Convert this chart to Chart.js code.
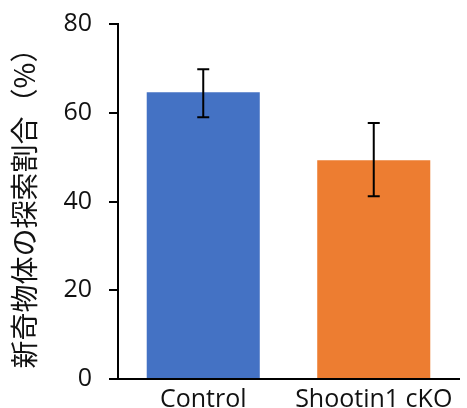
<!DOCTYPE html>
<html>
<head>
<meta charset="utf-8">
<script src="https://cdn.jsdelivr.net/npm/chart.js@4.4.0/dist/chart.umd.min.js"></script>
<style>
  html, body { margin: 0; padding: 0; background: #fff; }
  #wrap { width: 467px; height: 408px; }
</style>
</head>
<body>
<div id="wrap"><canvas id="exploreChart"></canvas></div>
<script>
var categories = ["Control", "Shootin1 cKO"];
var exploreRatio = [64.6, 49.3];
var errLow = [59.0, 41.2];
var errHigh = [69.8, 57.7];
var barColors = ["#4472C4", "#ED7D31"];
var yTicks = [0, 20, 40, 60, 80];

// draws the error whiskers on top of the bars
var errorBarPlugin = {
  id: "errorBars",
  afterDatasetsDraw: function (chart) {
    var ctx = chart.ctx;
    var yScale = chart.scales.y;
    var meta = chart.getDatasetMeta(0);
    ctx.save();
    ctx.strokeStyle = "#000";
    ctx.lineWidth = 2;
    meta.data.forEach(function (bar, i) {
      var x = bar.x;
      var top = yScale.getPixelForValue(errHigh[i]);
      var bottom = yScale.getPixelForValue(errLow[i]);
      var cap = 6;
      ctx.beginPath();
      ctx.moveTo(x, top);
      ctx.lineTo(x, bottom);
      ctx.moveTo(x - cap, top);
      ctx.lineTo(x + cap, top);
      ctx.moveTo(x - cap, bottom);
      ctx.lineTo(x + cap, bottom);
      ctx.stroke();
    });
    ctx.restore();
  },
};

var ctx = document.getElementById("exploreChart").getContext("2d");

new Chart(ctx, {
  type: "bar",
  data: {
    labels: categories,
    datasets: [
      {
        label: "探索割合",
        data: exploreRatio,
        backgroundColor: barColors,
        borderWidth: 0,
        barPercentage: 0.663,
        categoryPercentage: 1.0,
      },
    ],
  },
  options: {
    responsive: true,
    maintainAspectRatio: false,
    animation: false,
    layout: {
      padding: { left: 0, right: 8, top: 24, bottom: 0 },
    },
    plugins: {
      legend: { display: false },
      tooltip: { enabled: false },
    },
    scales: {
      x: {
        afterFit: function (scale) {
          scale.height = 29;
          scale.paddingLeft = 0;
          scale.paddingRight = 0;
        },
        grid: { display: false, drawTicks: false },
        border: { display: true, color: "#000", width: 2 },
        ticks: {
          padding: 6,
          color: "#111",
          font: { family: "'Open Sans', sans-serif", size: 25 },
        },
      },
      y: {
        min: 0,
        max: 80,
        afterFit: function (scale) {
          scale.width = 118;
          scale.paddingTop = 0;
          scale.paddingBottom = 0;
        },
        afterBuildTicks: function (scale) {
          scale.ticks = yTicks.map(function (v) {
            return { value: v };
          });
        },
        grid: {
          display: true,
          drawOnChartArea: false,
          drawTicks: true,
          tickLength: 9,
          color: "#000",
          lineWidth: 2,
        },
        border: { display: true, color: "#000", width: 2 },
        ticks: {
          padding: 17,
          color: "#111",
          font: { family: "'Open Sans', sans-serif", size: 25 },
        },
        title: {
          display: true,
          text: "新奇物体の探索割合（%）",
          color: "#111",
          padding: { top: 8, bottom: 0 },
          font: { family: "'Noto Sans CJK JP', sans-serif", size: 28 },
        },
      },
    },
  },
  plugins: [errorBarPlugin],
});
</script>
</body>
</html>
